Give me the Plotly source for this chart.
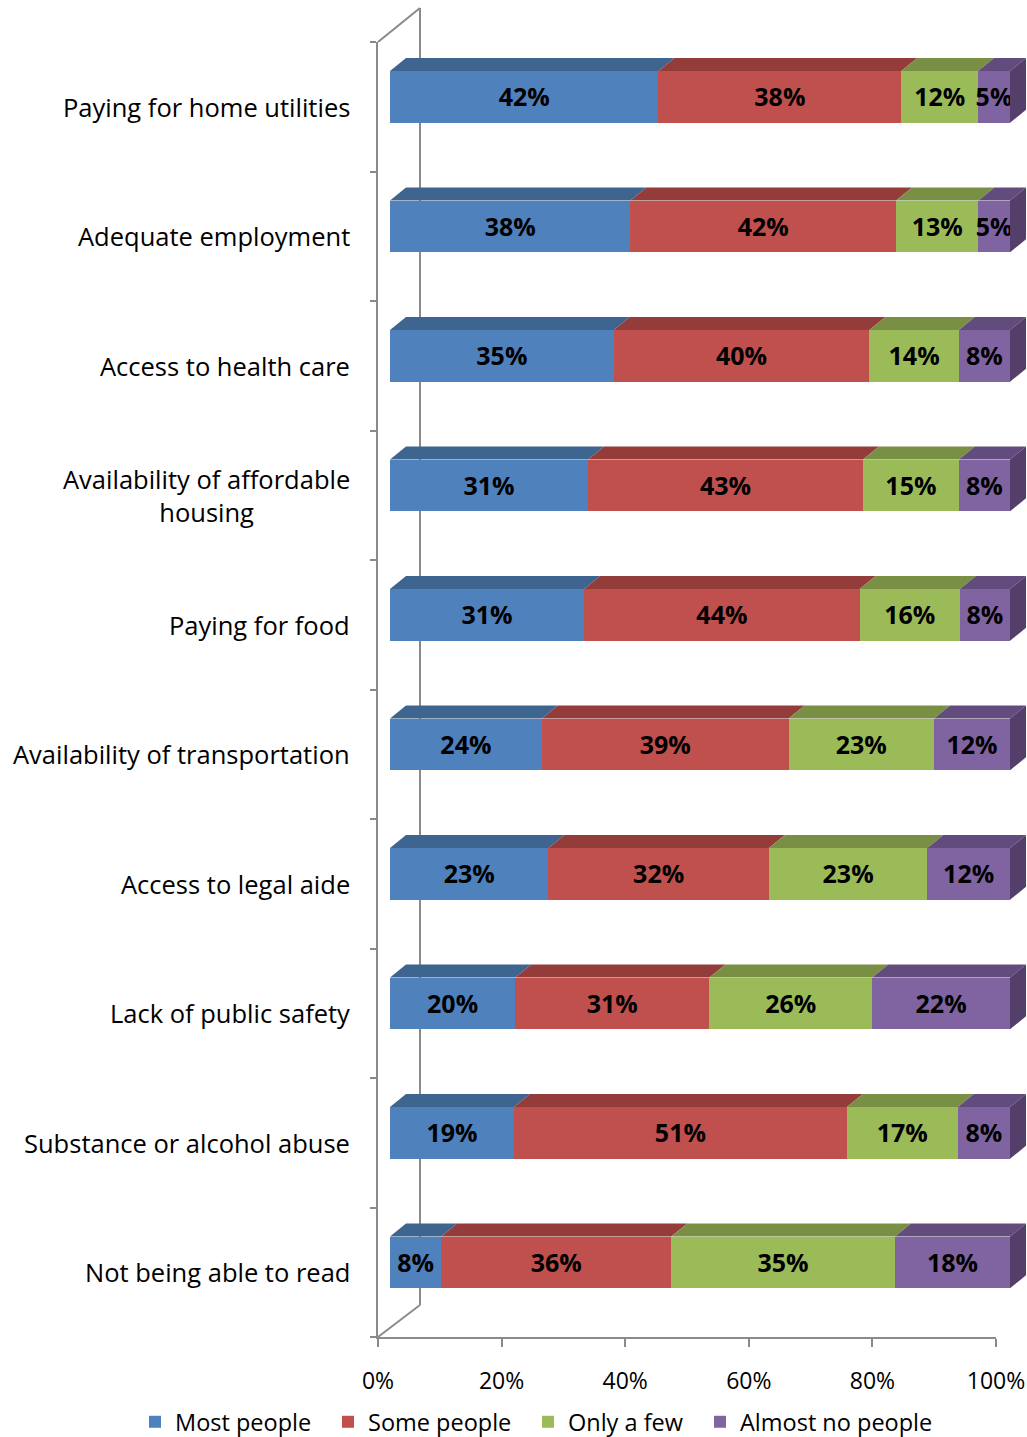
import plotly.graph_objects as go

# ---------------- data ----------------
categories = [
    "Paying for home utilities",
    "Adequate employment",
    "Access to health care",
    "Availability of affordable<br>housing",
    "Paying for food",
    "Availability of transportation",
    "Access to legal aide",
    "Lack of public safety",
    "Substance or alcohol abuse",
    "Not being able to read",
]
most_people = [42, 38, 35, 31, 31, 24, 23, 20, 19, 8]
some_people = [38, 42, 40, 43, 44, 39, 32, 31, 51, 36]
only_a_few = [12, 13, 14, 15, 16, 23, 23, 26, 17, 35]
almost_no_people = [5, 5, 8, 8, 8, 12, 12, 22, 8, 18]
series_names = ["Most people", "Some people", "Only a few", "Almost no people"]
tick_values = [0, 20, 40, 60, 80, 100]
tick_labels = ["0%", "20%", "40%", "60%", "80%", "100%"]

# ---------------- styles ----------------
front_colors = ["#4F81BD", "#C0504D", "#9BBB59", "#8064A2"]
top_colors = ["#3D6590", "#943C3A", "#788F44", "#624C7D"]
side_color = "#533F6A"
frame_color = "#8A8A8A"
FONT = "Open Sans"

W, H = 1027, 1437
PLOT_TOP, PLOT_BOTTOM = 42, 1337
PLOT_H = PLOT_BOTTOM - PLOT_TOP
BAND_PX = PLOT_H / len(categories)
BAR_LEFT_PX, BAR_RIGHT_PX = 390, 1010     # front face of bars
AX_LEFT_PX, AX_RIGHT_PX = 378, 996        # floor axis
BACK_X_PX, BACK_TOP_PX, BACK_BOTTOM_PX = 420, 8, 1305
LEGEND_X_PX = [135, 328, 528, 700]        # left edge of each legend entry
LEGEND_Y_PX = 1422
px_per_unit = (BAR_RIGHT_PX - BAR_LEFT_PX) / 100.0
DEPTH_X = 16 / px_per_unit                # depth in x data units
DEPTH_Y = 13 / BAND_PX                    # depth in y category units
BAR_W = 0.40
BAR_OFF = -0.276
LABEL_DY = 3 / BAND_PX                    # small optical shift of value labels

series = [most_people, some_people, only_a_few, almost_no_people]
n = len(categories)
ypos = list(range(n))
legend_ids = ["legend", "legend2", "legend3", "legend4"]

fig = go.Figure()

for name, vals, col, lid in zip(series_names, series, front_colors, legend_ids):
    fig.add_trace(go.Bar(
        y=ypos, x=vals, orientation="h", name=name,
        width=BAR_W, offset=BAR_OFF,
        marker=dict(color=col, line=dict(width=0)),
        xaxis="x", yaxis="y", hoverinfo="skip", legend=lid,
    ))

# normalised positions (computed from data) for labels and 3-D faces
shapes = []
lab_x, lab_y, lab_t = [], [], []
for i in range(n):
    row = [s[i] for s in series]
    tot = sum(row)
    cum = 0.0
    ytop = i + BAR_OFF
    ybot = ytop + BAR_W
    for k, v in enumerate(row):
        x0 = cum
        x1 = cum + v / tot * 100.0
        cum = x1
        lab_x.append((x0 + x1) / 2)
        lab_y.append(ytop + BAR_W / 2 + LABEL_DY)
        lab_t.append(f"{v}%")
        shapes.append(dict(
            type="path", xref="x", yref="y", layer="above",
            path=(f"M {x0},{ytop} L {x1},{ytop} L {x1 + DEPTH_X},{ytop - DEPTH_Y} "
                  f"L {x0 + DEPTH_X},{ytop - DEPTH_Y} Z"),
            fillcolor=top_colors[k], line=dict(width=0),
        ))
    shapes.append(dict(
        type="path", xref="x", yref="y", layer="above",
        path=(f"M {cum},{ytop} L {cum + DEPTH_X},{ytop - DEPTH_Y} "
              f"L {cum + DEPTH_X},{ybot - DEPTH_Y} L {cum},{ybot} Z"),
        fillcolor=side_color, line=dict(width=0),
    ))

fig.add_trace(go.Scatter(
    x=lab_x, y=lab_y, text=lab_t, mode="text", xaxis="x", yaxis="y",
    textfont=dict(family=FONT, size=25, color="black", weight="bold"),
    showlegend=False, hoverinfo="skip", cliponaxis=False,
))

# invisible trace for the floor axis
fig.add_trace(go.Scatter(
    x=[0, 100], y=[0, 0], mode="markers", marker=dict(opacity=0),
    xaxis="x2", yaxis="y", showlegend=False, hoverinfo="skip",
))


def px(x):
    return x / W


def py(y):
    return (PLOT_BOTTOM - y) / PLOT_H


# 3-D frame (back wall + side diagonals)
frame_lines = [
    ((BACK_X_PX, BACK_TOP_PX), (BACK_X_PX, BACK_BOTTOM_PX)),
    ((AX_LEFT_PX, PLOT_TOP), (BACK_X_PX, BACK_TOP_PX)),
    ((AX_LEFT_PX, PLOT_BOTTOM), (BACK_X_PX, BACK_BOTTOM_PX)),
]
frame_shapes = []
for (xa, ya), (xb, yb) in frame_lines:
    frame_shapes.append(dict(
        type="line", xref="paper", yref="paper", layer="below",
        x0=px(xa), y0=py(ya), x1=px(xb), y1=py(yb),
        line=dict(color=frame_color, width=2),
    ))

annotations = []
for i, c in enumerate(categories):
    annotations.append(dict(
        text=c, xref="paper", yref="y", x=px(352), y=i,
        xanchor="right", yanchor="middle", align="center", showarrow=False,
        font=dict(family=FONT, size=25.5, color="black"),
    ))

legend_layout = {}
for lid, lx in zip(legend_ids, LEGEND_X_PX):
    legend_layout[lid] = dict(
        orientation="h", x=px(lx), xanchor="left", y=py(LEGEND_Y_PX),
        yanchor="middle", font=dict(family=FONT, size=23.5, color="black"),
        bgcolor="rgba(0,0,0,0)",
    )

fig.update_layout(
    width=W, height=H,
    margin=dict(l=0, r=0, t=PLOT_TOP, b=H - PLOT_BOTTOM, autoexpand=False),
    paper_bgcolor="white", plot_bgcolor="rgba(0,0,0,0)",
    barmode="stack", barnorm="percent",
    shapes=frame_shapes + shapes,
    annotations=annotations,
    font=dict(family=FONT, color="black"),
    xaxis=dict(
        domain=[px(BAR_LEFT_PX), 1.0],
        range=[0, (W - BAR_LEFT_PX) / px_per_unit],
        visible=False, showgrid=False, zeroline=False, fixedrange=True,
    ),
    xaxis2=dict(
        domain=[px(AX_LEFT_PX), px(AX_RIGHT_PX)], range=[0, 100], anchor="y",
        tickvals=tick_values, ticktext=tick_labels, ticks="outside", ticklen=8,
        tickwidth=2, tickcolor=frame_color, showline=True, linecolor=frame_color,
        linewidth=2, showgrid=False, zeroline=False, automargin=False,
        ticklabelstandoff=14,
        tickfont=dict(family=FONT, size=23, color="black"),
    ),
    yaxis=dict(
        domain=[0, 1], range=[n - 0.5, -0.5], anchor="x2",
        showline=True, linecolor=frame_color, linewidth=2, automargin=False,
        showticklabels=False, ticks="", showgrid=False, zeroline=False,
        tickvals=ypos,
        minor=dict(tickvals=[k - 0.5 for k in range(n + 1)], ticks="outside",
                   ticklen=6, tickwidth=2, tickcolor=frame_color, showgrid=False),
    ),
    **legend_layout,
)

fig.write_html(
    "out.html",
    config={"displayModeBar": False},
    post_script="document.body.style.margin='0';document.body.style.overflow='hidden';",
)
